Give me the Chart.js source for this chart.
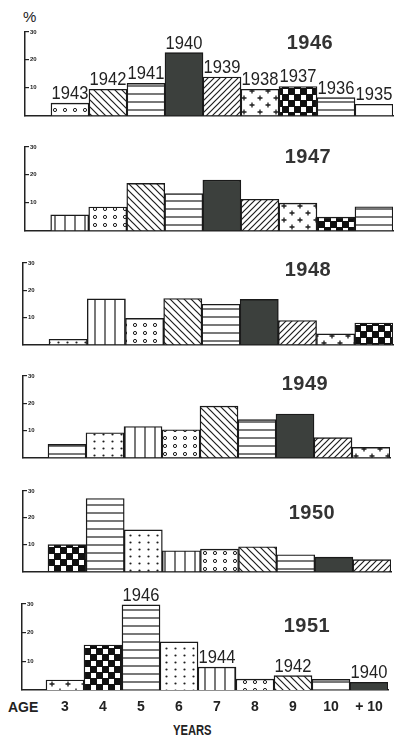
<!DOCTYPE html>
<html>
<head>
<meta charset="utf-8">
<script src="https://cdn.jsdelivr.net/npm/chart.js@4.4.1/dist/chart.umd.min.js"></script>
<style>
  body { margin: 0; background: #fff; width: 394px; height: 735px; position: relative; overflow: hidden;
         font-family: "Liberation Sans", Arial, sans-serif; color: #222; }
  canvas { position: absolute; left: 0; }
  .title { position: absolute; font-weight: bold; font-size: 20px; line-height: 20px; color: #333;
           letter-spacing: 0.5px; transform: translateX(-50%); white-space: nowrap; }
  .note { position: absolute; font-size: 14px; line-height: 14px; color: #222; white-space: nowrap; }
</style>
</head>
<body>
<div class="note" style="left:23px;top:10px;font-size:15px;">%</div>
<div class="note" style="left:8px;top:700px;font-weight:bold;">AGE</div>
<div class="note" style="left:173px;top:723px;transform:scaleX(0.8);transform-origin:left top;font-weight:bold;">YEARS</div>

<script>
// ages on the x axis (+10 sits in slot 11)
const ages = ['3', '4', '5', '6', '7', '8', '9', '10', '+ 10'];
const agePos = [3, 4, 5, 6, 7, 8, 9, 10, 11];
const yTicks = [10, 20, 30];
const surveyYears = [1946, 1947, 1948, 1949, 1950, 1951];

// percentage of each age group, one array per survey year
const pct1946 = [4.4, 9.4, 11.5, 22.6, 13.8, 9.4, 10.4, 6.4, 4.0];
const pct1947 = [5.6, 8.4, 16.9, 13.2, 18.1, 11.2, 9.8, 4.8, 8.5];
const pct1948 = [1.9, 16.8, 9.6, 16.9, 14.8, 16.6, 8.8, 3.9, 7.9];
const pct1949 = [4.8, 9.1, 11.4, 10.2, 18.9, 13.9, 16.0, 7.3, 3.7];
const pct1950 = [10.0, 27.2, 15.5, 7.7, 8.3, 9.2, 6.2, 5.3, 4.4];
const pct1951 = [3.5, 15.7, 29.7, 16.8, 8.0, 3.8, 5.0, 3.7, 2.7];

// year-class labels written above the bars
const classLabels1946 = ['1943', '1942', '1941', '1940', '1939', '1938', '1937', '1936', '1935'];
const classLabels1951 = ['', '', '1946', '', '1944', '', '1942', '', '1940'];

const allPct = [pct1946, pct1947, pct1948, pct1949, pct1950, pct1951];
const allLabels = [classLabels1946, [], [], [], [], classLabels1951];

// where each panel sits on the page (pixels)
const panelBoxes = [
  { axisX: 25, top30: 32,  base: 121,   end: 393, xMin: 1.816 },
  { axisX: 25, top30: 147, base: 236,   end: 393, xMin: 1.824 },
  { axisX: 23, top30: 263, base: 349.5, end: 393, xMin: 1.819 },
  { axisX: 23, top30: 376, base: 463,   end: 390, xMin: 1.842 },
  { axisX: 23, top30: 491, base: 577,   end: 391, xMin: 1.844 },
  { axisX: 22, top30: 604, base: 690,   end: 388, xMin: 1.868 }
];
const titlePos = [[310, 32], [308, 146], [308, 259], [305, 373], [312, 502], [307, 615]];

// hatch pattern per year class
const INK = '#1e1e1e';
function tile(w, h, draw) {
  const c = document.createElement('canvas');
  c.width = w; c.height = h;
  const g = c.getContext('2d');
  g.fillStyle = '#fff';
  g.fillRect(0, 0, w, h);
  g.strokeStyle = INK; g.fillStyle = INK; g.lineWidth = 1.2;
  draw(g, w, h);
  return g.createPattern(c, 'repeat');
}
const patterns = {
  blank: '#ffffff',
  dark: '#3c403d',
  horiz: tile(8, 8, (g, w) => { g.beginPath(); g.moveTo(0, 4); g.lineTo(w, 4); g.stroke(); }),
  vert: tile(10, 10, (g, w, h) => { g.beginPath(); g.moveTo(5, 0); g.lineTo(5, h); g.stroke(); }),
  back: tile(7, 7, (g, p) => {
    g.beginPath();
    g.moveTo(0, 0); g.lineTo(p, p);
    g.moveTo(-1, p - 1); g.lineTo(1, p + 1);
    g.moveTo(p - 1, -1); g.lineTo(p + 1, 1);
    g.stroke();
  }),
  slash: tile(6, 6, (g, p) => {
    g.beginPath();
    g.moveTo(0, p); g.lineTo(p, 0);
    g.moveTo(-1, 1); g.lineTo(1, -1);
    g.moveTo(p - 1, p + 1); g.lineTo(p + 1, p - 1);
    g.stroke();
  }),
  circles: tile(10, 8, g => { g.lineWidth = 1; g.beginPath(); g.arc(5, 4, 1.6, 0, Math.PI * 2); g.stroke(); }),
  dots: tile(9, 7, g => { g.beginPath(); g.arc(4.5, 3.5, 1.1, 0, Math.PI * 2); g.fill(); }),
  cross: tile(16, 14, g => {
    g.lineWidth = 1.3;
    g.beginPath();
    [[4, 4], [12, 11]].forEach(([x, y]) => {
      g.moveTo(x - 2.5, y); g.lineTo(x + 2.5, y);
      g.moveTo(x, y - 2.5); g.lineTo(x, y + 2.5);
    });
    g.stroke();
  }),
  checker: tile(12, 12, g => {
    g.fillStyle = '#111'; g.fillRect(0, 0, 12, 12);
    g.fillStyle = '#fff'; g.fillRect(1, 1, 5, 5); g.fillRect(7, 7, 5, 5);
  })
};
const classPattern = {
  1935: 'blank', 1936: 'horiz', 1937: 'checker', 1938: 'cross', 1939: 'slash', 1940: 'dark',
  1941: 'horiz', 1942: 'back', 1943: 'circles', 1944: 'vert', 1945: 'dots', 1946: 'horiz',
  1947: 'checker', 1948: 'cross'
};
const fillFor = yc => patterns[classPattern[yc]] || '#fff';

// writes year classes above bars, placed from the bar elements
const yearLabelsPlugin = {
  id: 'yearLabels',
  afterDatasetsDraw(chart, args, opts) {
    const labels = opts.labels || [];
    const ctx = chart.ctx;
    chart.getDatasetMeta(0).data.forEach((bar, i) => {
      if (!labels[i]) return;
      ctx.save();
      ctx.translate(bar.x, bar.y - 4);
      ctx.scale(0.87, 1);
      ctx.font = '19px "Liberation Sans", Arial, sans-serif';
      ctx.fillStyle = '#222';
      ctx.textAlign = 'center';
      ctx.textBaseline = 'alphabetic';
      ctx.fillText(labels[i], 0, 0);
      ctx.restore();
    });
  }
};

surveyYears.forEach((yr, p) => {
  const box = panelBoxes[p];
  const last = p === surveyYears.length - 1;
  const padTop = 22;
  const padBottom = last ? 0 : 3;
  const xHeight = last ? 735 - box.base : 0;
  const canvasTop = box.top30 - padTop;
  const h = Math.round(box.base + xHeight + padBottom - canvasTop);

  const cv = document.createElement('canvas');
  cv.width = 394; cv.height = h;
  cv.style.top = canvasTop + 'px';
  document.body.appendChild(cv);

  const t = document.createElement('div');
  t.className = 'title';
  t.textContent = yr;
  t.style.left = titlePos[p][0] + 'px';
  t.style.top = titlePos[p][1] + 'px';
  document.body.appendChild(t);

  new Chart(cv, {
    type: 'bar',
    data: {
      datasets: [{
        data: agePos.map((x, i) => ({ x: x, y: allPct[p][i] })),
        backgroundColor: agePos.map(x => fillFor(yr - x)),
        borderColor: '#1a1a1a',
        borderWidth: 1.4,
        barPercentage: 1,
        categoryPercentage: 1
      }]
    },
    options: {
      responsive: false,
      animation: false,
      layout: { padding: { left: box.axisX, right: 394 - box.end, top: padTop, bottom: padBottom } },
      plugins: {
        legend: { display: false },
        tooltip: { enabled: false },
        yearLabels: { labels: allLabels[p] }
      },
      scales: {
        x: {
          type: 'linear',
          offset: false,
          min: box.xMin,
          max: 11.5,
          grid: { display: false, drawTicks: false, offset: false },
          border: { display: true, color: '#222', width: 1.5 },
          ticks: {
            display: last,
            padding: 9,
            color: '#222',
            font: { family: '"Liberation Sans", Arial, sans-serif', size: 14, weight: 'bold' },
            callback: v => ages[agePos.indexOf(v)]
          },
          afterBuildTicks: s => { s.ticks = agePos.map(v => ({ value: v })); },
          afterFit: s => { s.height = xHeight; }
        },
        y: {
          min: 0,
          max: 30,
          grid: { display: true, drawOnChartArea: false, drawTicks: true, tickLength: -4, color: '#222', lineWidth: 1.2 },
          border: { display: true, color: '#222', width: 1.5 },
          ticks: {
            mirror: true,
            padding: 5,
            color: '#222',
            font: { family: '"Liberation Sans", Arial, sans-serif', size: 6, weight: 'bold' },
            callback: v => yTicks.includes(v) ? String(v) : null
          },
          afterBuildTicks: s => { s.ticks = yTicks.map(v => ({ value: v })); },
          afterFit: s => { s.width = 0; }
        }
      }
    },
    plugins: [yearLabelsPlugin]
  });
});
</script>
</body>
</html>
